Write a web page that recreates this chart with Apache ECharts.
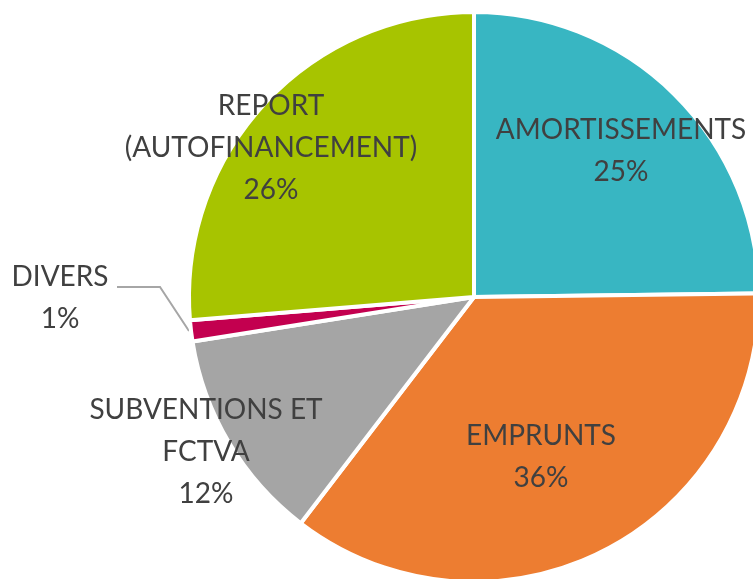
<!DOCTYPE html>
<html>
<head>
<meta charset="utf-8">
<script src="https://cdn.jsdelivr.net/npm/echarts@6/dist/echarts.min.js"></script>
<style>
  html, body { margin: 0; padding: 0; background: #fff; }
  #chart { width: 753px; height: 579px; }
</style>
</head>
<body>
<div id="chart"></div>
<script>
// données (sens horaire depuis midi)
var categories = ['AMORTISSEMENTS', 'EMPRUNTS', 'SUBVENTIONS ET\nFCTVA', 'DIVERS', 'REPORT\n(AUTOFINANCEMENT)'];
var values = [24.8, 35.6, 12.1, 1.2, 26.3];
var colors = ['#38B6C2', '#ED7D31', '#A5A5A5', '#C3004F', '#A7C400'];

// position des étiquettes (centre du bloc de texte)
var labelPos = [[621, 151], [541, 457], [206, 452], [60, 298], [271, 148]];

var chart = echarts.init(document.getElementById('chart'));

var data = [];
for (var i = 0; i < categories.length; i++) {
	data.push({
		name: categories[i],
		value: values[i],
		itemStyle: { color: colors[i] },
		label: { position: i == 3 ? 'outside' : 'inside' },
		labelLine: { show: i == 3 }
	});
}

var option = {
	animation: false,
	series: [{
		type: 'pie',
		center: [474, 297],
		radius: 285,
		startAngle: 90,
		clockwise: true,
		percentPrecision: 0,
		avoidLabelOverlap: false,
		data: data,
		itemStyle: {
			borderColor: '#fff',
			borderWidth: 4
		},
		label: {
			formatter: '{b}\n{d}%',
			color: '#404040',
			fontFamily: 'Lato',
			fontSize: 28,
			lineHeight: 42,
			align: 'center'
		},
		labelLine: {
			lineStyle: { color: '#A6A6A6', width: 2 }
		},
		labelLayout: function (params) {
			var p = labelPos[params.dataIndex];
			var res = { x: p[0], y: p[1], align: 'center', verticalAlign: 'middle' };
			if (params.dataIndex == 3) {
				res.labelLinePoints = [[117, 287], [160, 287], [189, 331]];
			}
			return res;
		}
	}]
};

chart.setOption(option);
</script>
</body>
</html>
